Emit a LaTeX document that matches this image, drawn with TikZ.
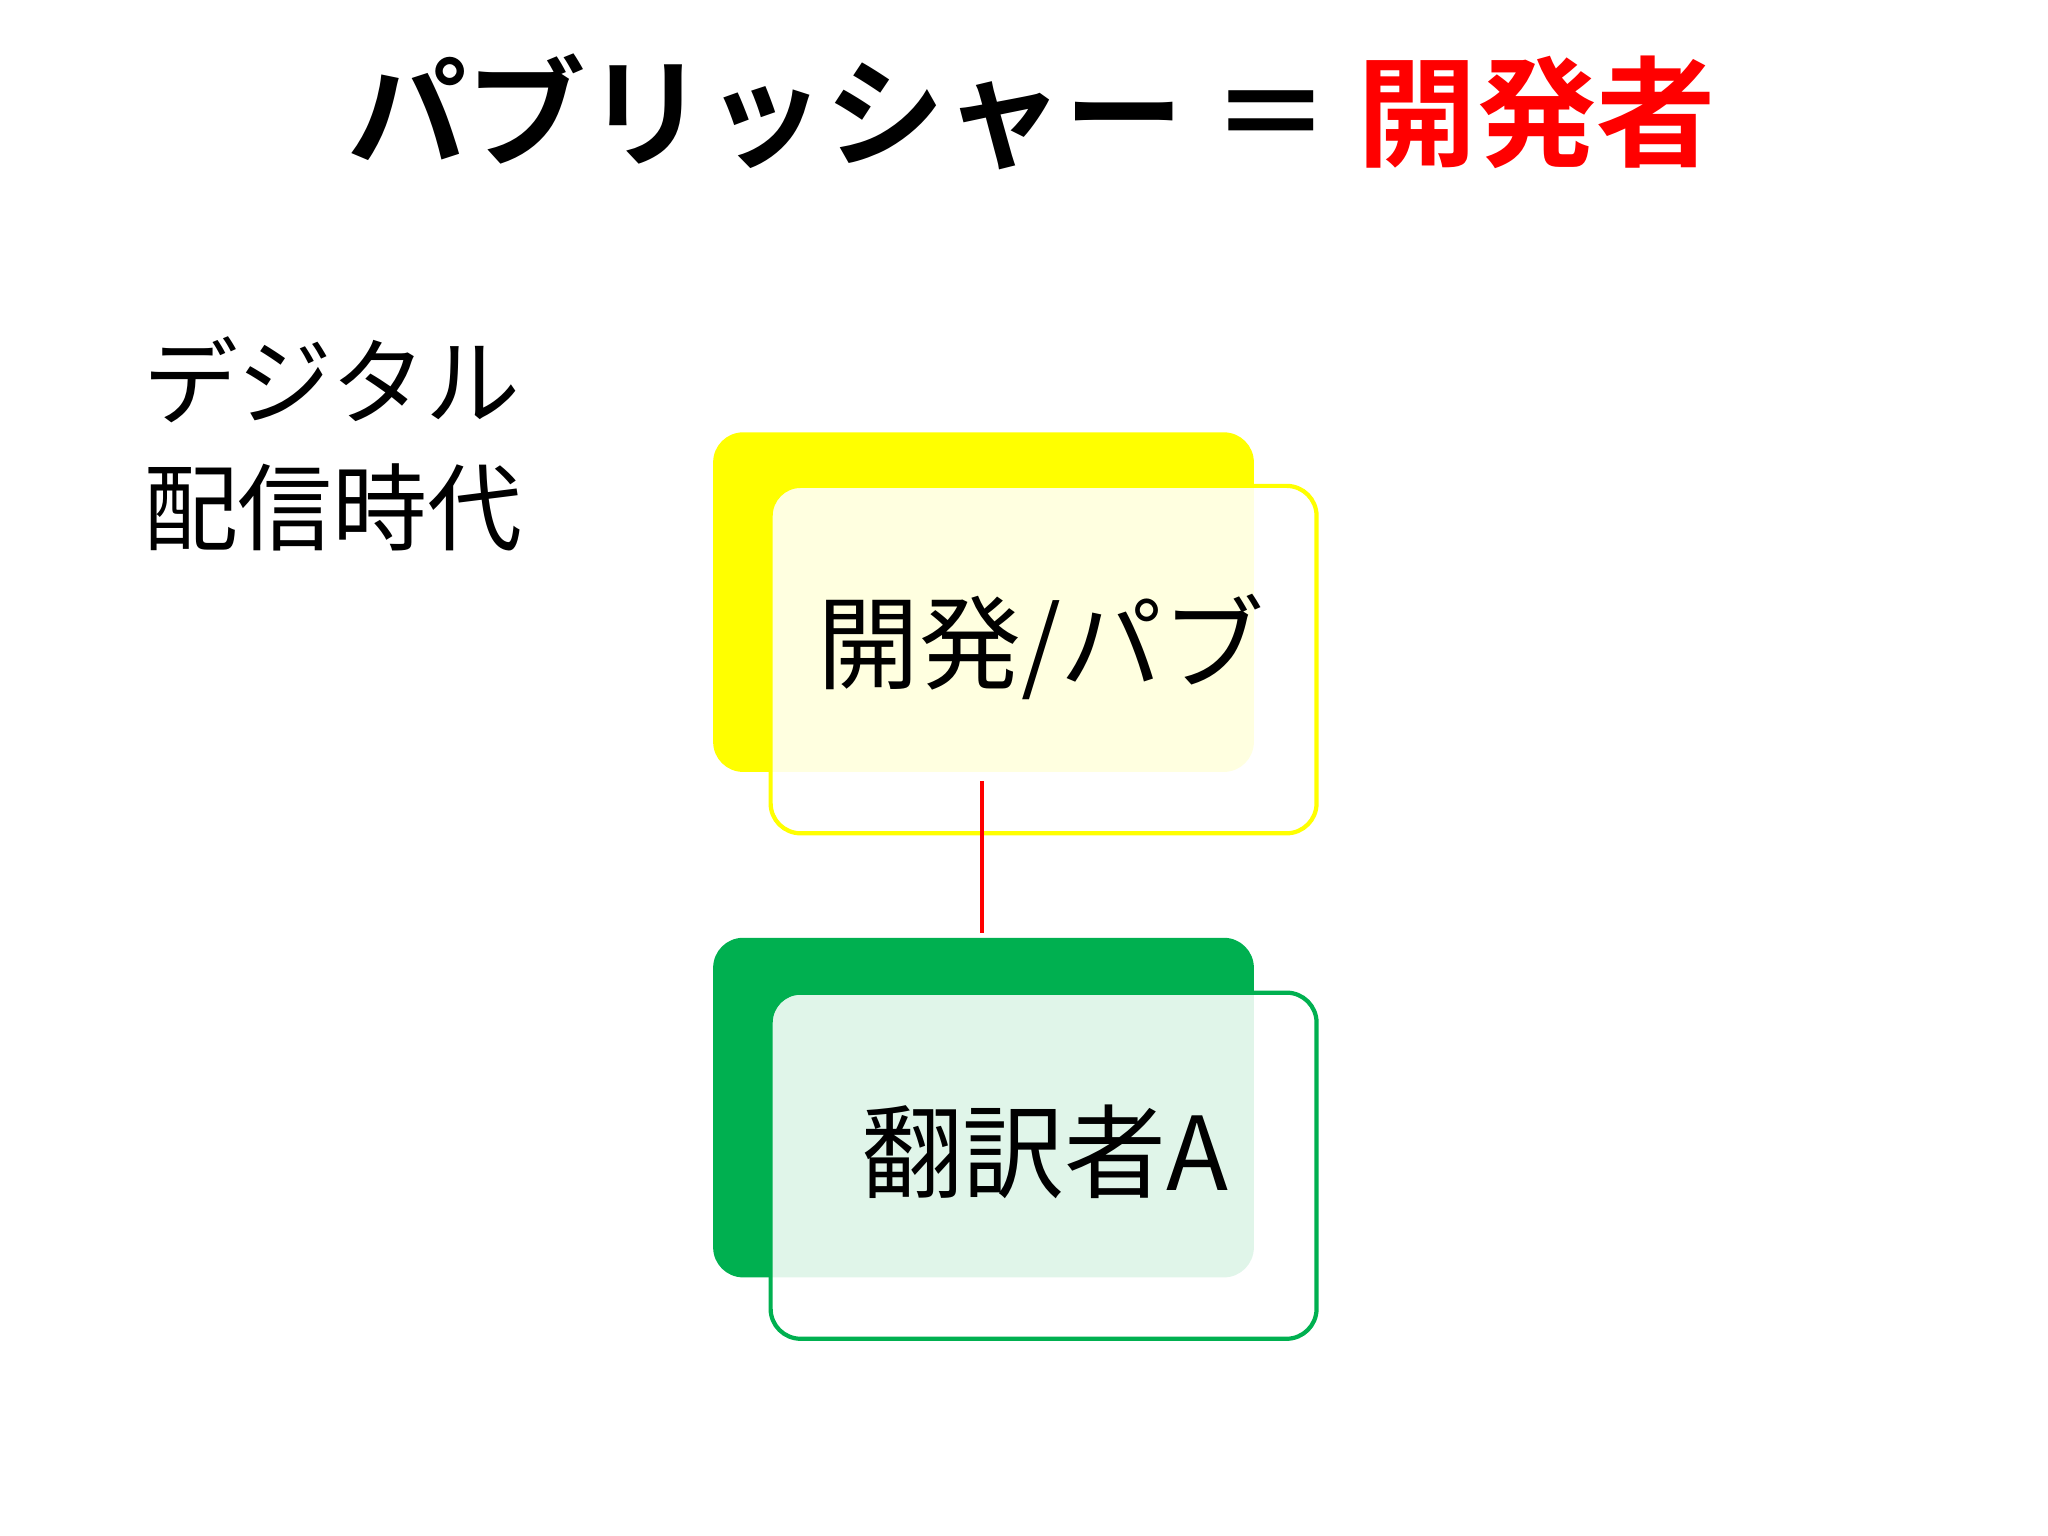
\documentclass[tikz,border=0pt]{standalone}
\usepackage{fontspec}
\setmainfont{Noto Sans CJK JP}
\newfontfamily\jpb{Noto Sans CJK JP Bold}
\definecolor{ygreen}{RGB}{0,176,80}
\definecolor{yel}{RGB}{255,255,0}
\begin{document}
\begin{tikzpicture}[x=0.01306cm,y=-0.01306cm,
  back/.style={rounded corners=0.3cm},
  front/.style={rounded corners=0.3cm,line width=1.2pt,fill=white,fill opacity=0.88},
  lbl/.style={font=\fontsize{29}{34}\selectfont,text=black}]
\useasboundingbox (0,0) rectangle (1568,1176);
\node[font=\jpb\fontsize{34}{40}\selectfont] (title) at (790,86) {パブリッシャー ＝ \textcolor{red}{開発者}};
\node[font=\fontsize{27}{36}\selectfont,align=left,anchor=north west] (era) at (100,248) {デジタル\\配信時代};
\fill[yel,back] (546,331) rectangle (960,591);
\draw[yel,front] (590,372) rectangle (1008,638);
\node[lbl] (dev) at (797,495) {開発/パブ};
\fill[ygreen,back] (546,718) rectangle (960,978);
\draw[ygreen,front] (590,760) rectangle (1008,1025);
\node[lbl] (tr) at (800,882) {翻訳者A};
\coordinate (a) at (752,598);
\coordinate (b) at (752,714);
\draw[red,line width=1.2pt] (a) -- (b);
\end{tikzpicture}
\end{document}
